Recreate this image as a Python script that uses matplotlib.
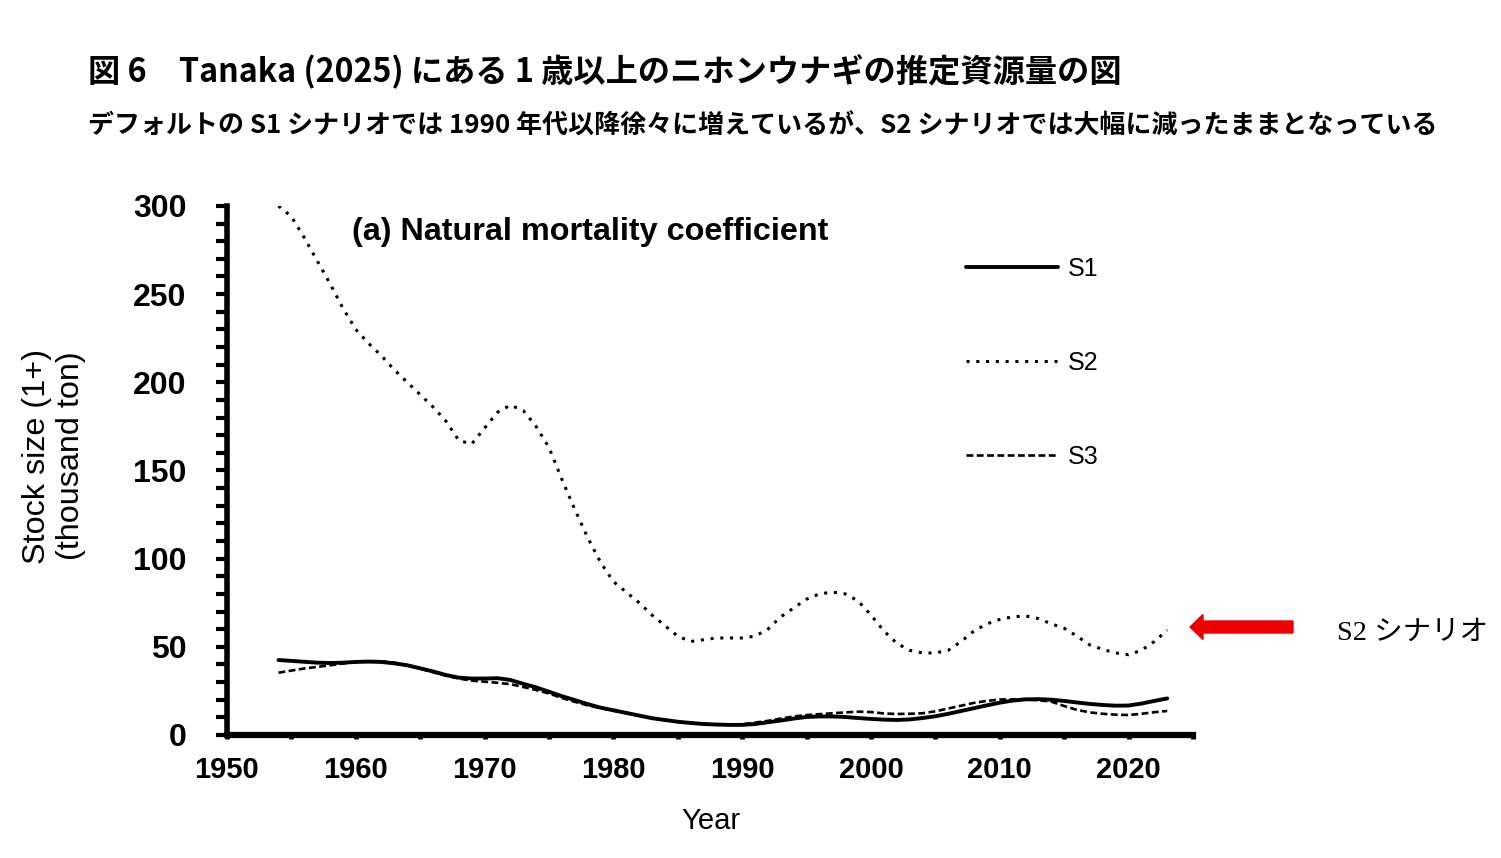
import matplotlib
matplotlib.use("Agg")
from matplotlib import pyplot as plt
from matplotlib import patches
import numpy as np

plt.rcParams['font.family'] = ['Liberation Sans', 'Noto Sans CJK JP', 'DejaVu Sans']

# estimated stock size (1+), thousand ton
years = list(range(1954, 2024))

s1 = [42.5, 42, 41.5, 41, 40.8, 41, 41.4, 41.6, 41.4, 40.6,
      39.5, 37.8, 36, 34, 32.5, 32, 32, 32.2, 31.2, 29,
      27, 24.5, 22, 19.8, 17.5, 15.5, 14, 12.5, 11, 9.5,
      8.5, 7.5, 6.8, 6.2, 5.9, 5.7, 5.7, 6.2, 7.2, 8.2,
      9.3, 10.2, 10.5, 10.5, 10.2, 9.6, 9.1, 8.7, 8.5, 8.8,
      9.6, 10.6, 12, 13.6, 15.2, 16.8, 18.3, 19.5, 20.2, 20.3,
      20, 19.3, 18.4, 17.6, 17, 16.6, 16.7, 17.8, 19.3, 20.7]

s2 = [300, 294, 282, 269, 256, 242, 230, 222, 215, 207,
      200, 193, 186, 178, 167, 165, 174, 183, 187, 184,
      175, 163, 145, 128, 112, 98, 87, 81, 75, 68,
      62, 56, 53, 54, 55, 55, 55, 56, 60, 67,
      72, 77, 80, 81, 80, 76, 68, 59, 52, 48,
      46.5, 46.5, 48, 53, 59, 63, 65.5, 67, 67.5, 66,
      63, 60.5, 56, 51, 48.5, 46.5, 45.5, 48, 53, 59.5]

s3 = [35.3, 36.5, 37.7, 38.6, 39.5, 40.5, 41.4, 41.9, 41.7, 41,
      39.6, 37.6, 35.6, 33.6, 32, 30.8, 30.2, 29.6, 28.8, 27.2,
      25.5, 23.5, 21, 18.8, 16.8, 15.2, 13.8, 12.3, 10.9, 9.5,
      8.4, 7.4, 6.8, 6.3, 6, 5.9, 6.1, 7, 8, 9.3,
      10.5, 11.3, 11.8, 12.3, 12.8, 13.2, 13, 12.2, 11.9, 12,
      12.3, 13.4, 15, 16.6, 18.2, 19.3, 20.1, 20.2, 20.1, 19.7,
      18.9, 16.4, 14.2, 12.8, 12, 11.5, 11.3, 12, 12.9, 13.6]

fig = plt.figure(figsize=(15.01, 8.58), dpi=100)
ax = fig.add_axes([0.1512, 0.1434, 0.6436, 0.6166])

ax.plot(years, s1, color='black', lw=2.8, solid_capstyle='round', label='S1')
ax.plot(years, s2, color='black', lw=2.2, linestyle=(0, (1, 2.2)), label='S2')
ax.plot(years, s3, color='black', lw=1.9, linestyle=(0, (2.6, 1.3)), label='S3')

ax.set_xlim(1950, 2025)
ax.set_ylim(0, 300)
ax.set_xticks(range(1950, 2030, 10))
ax.set_xticks(range(1950, 2030, 5), minor=True)
ax.set_xticklabels([str(y) for y in range(1950, 2030, 10)])
ax.set_yticks(range(0, 350, 50))
ax.set_yticks(range(0, 310, 10), minor=True)

for side in ['top', 'right']:
    ax.spines[side].set_visible(False)
ax.spines['left'].set_linewidth(4)
ax.spines['bottom'].set_linewidth(4.5)

ax.tick_params(axis='y', which='both', direction='out', length=8, width=3)
ax.tick_params(axis='y', which='major', pad=21, labelsize=23)
ax.tick_params(axis='x', which='both', direction='out', length=3, width=3.5)
ax.tick_params(axis='x', which='major', pad=12, labelsize=21)
for lab in ax.get_xticklabels() + ax.get_yticklabels():
    lab.set_fontweight('bold')

ax.text(0.1295, 0.95, '(a) Natural mortality coefficient', transform=ax.transAxes,
        fontsize=23.3, fontweight='bold', va='center', ha='left')

ax.legend(loc='upper left', bbox_to_anchor=(966 / 1501, 1 - 257 / 858),
          bbox_transform=fig.transFigure, frameon=False, fontsize=18,
          handlelength=3.68, handletextpad=0.4, labelspacing=2.8,
          borderpad=0, borderaxespad=0)

fig.text(711 / 1501, 1 - 821 / 858, 'Year', fontsize=21, ha='center', va='center')
fig.text(54 / 1501, 1 - 456 / 858, 'Stock size (1+)\n(thousand ton)', fontsize=23.3,
         rotation=90, ha='center', va='center', linespacing=1.15)

fig.text(88 / 1501, 1 - 72 / 858,
         '図 6　Tanaka (2025) にある 1 歳以上のニホンウナギの推定資源量の図',
         family=['Noto Sans CJK JP'], fontsize=23.2, fontweight='bold', va='center')
fig.text(88 / 1501, 1 - 126 / 858,
         'デフォルトの S1 シナリオでは 1990 年代以降徐々に増えているが、S2 シナリオでは大幅に減ったままとなっている',
         family=['Noto Sans CJK JP'], fontsize=18.7, fontweight='bold', va='center')

# red arrow pointing at the S2 curve
arrow = patches.FancyArrow(12.93, (858 - 627) / 100, -1.03, 0, width=0.12,
                           head_width=0.25, head_length=0.13,
                           length_includes_head=True, color='#ee0000',
                           transform=fig.dpi_scale_trans)
fig.add_artist(arrow)
fig.text(1337 / 1501, 1 - 633 / 858, 'S2 シナリオ',
         family=['Liberation Serif', 'Noto Sans CJK JP'], fontsize=20.5, va='center')

fig.savefig('out.png', dpi=100)
